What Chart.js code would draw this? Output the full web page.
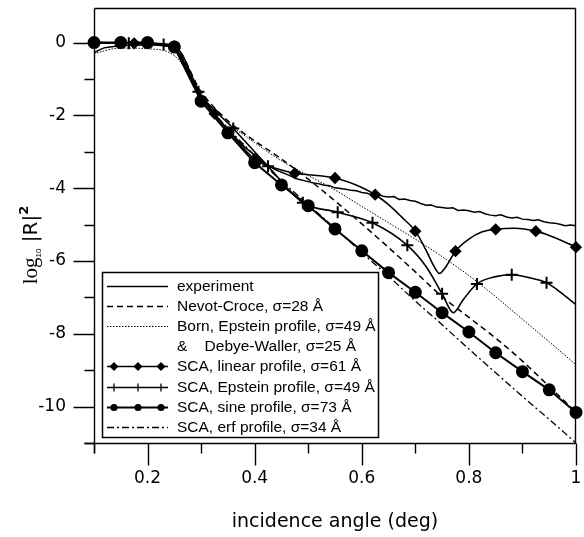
<!DOCTYPE html>
<html><head><meta charset="utf-8">
<script src="https://cdn.jsdelivr.net/npm/chart.js@4.4.0/dist/chart.umd.min.js"></script>
<style>html,body{margin:0;padding:0;background:#fff;overflow:hidden}canvas{display:block}</style>
</head><body>
<canvas id="c" width="584" height="537" style="width:584px;height:537px"></canvas>
<script>
// ---- tick labels ----
const xTickLabels = ['0.2', '0.4', '0.6', '0.8', '1'];
const yTickLabels = ['0', '-2', '-4', '-6', '-8', '-10'];
const xTitle = 'incidence angle (deg)';

// ---- legend labels ----
const labelExp = 'experiment';
const labelNC = 'Nevot-Croce, σ=28 Å';
const labelBorn = ['Born, Epstein profile, σ=49 Å', '&    Debye-Waller, σ=25 Å'];
const labelLin = 'SCA, linear profile, σ=61 Å';
const labelEps = 'SCA, Epstein profile, σ=49 Å';
const labelSin = 'SCA, sine profile, σ=73 Å';
const labelErf = 'SCA, erf profile, σ=34 Å';

// ---- experiment ----
const expX = [0.1,0.11,0.12,0.14,0.16,0.18,0.2,0.22,0.24,0.25,0.26,0.28,0.3,0.32,0.35,0.38,0.4,0.42,0.44,0.46,0.48,
  0.50,0.51,0.52,0.53,0.54,0.55,0.56,0.57,0.58,0.59,0.60,0.61,0.62,0.63,0.64,0.65,0.66,0.67,0.68,0.69,
  0.70,0.71,0.72,0.73,0.74,0.75,0.76,0.77,0.78,0.79,0.80,0.81,0.82,0.83,0.84,0.85,0.86,0.87,0.88,0.89,
  0.90,0.91,0.92,0.93,0.94,0.95,0.96,0.97,0.98,0.99,1.00];
const expY = [-0.28,-0.2,-0.14,-0.1,-0.08,-0.07,-0.06,-0.07,-0.1,-0.15,-0.35,-0.95,-1.5,-1.9,-2.4,-2.85,-3.1,-3.33,-3.5,-3.62,-3.75,
  -3.82,-3.86,-3.88,-3.92,-3.93,-3.99,-4.01,-4.03,-4.06,-4.07,-4.12,-4.14,-4.19,-4.17,-4.22,-4.24,-4.23,-4.31,-4.30,-4.34,
  -4.36,-4.42,-4.47,-4.46,-4.52,-4.53,-4.55,-4.54,-4.61,-4.60,-4.62,-4.66,-4.64,-4.70,-4.74,-4.76,-4.73,-4.79,-4.82,-4.80,
  -4.85,-4.86,-4.89,-4.87,-4.92,-4.95,-4.96,-4.99,-5.03,-5.01,-5.03];

// ---- Nevot-Croce ----
const ncX = [0.1,0.15,0.2,0.25,0.3,0.35,0.4,0.45,0.5,0.55,0.6,0.65,0.7,0.75,0.8,0.85,0.9,0.95,1.0];
const ncY = [0,-0.01,-0.02,-0.1,-1.35,-2.15,-2.7,-3.2,-3.75,-4.35,-4.98,-5.63,-6.3,-6.98,-7.55,-8.12,-8.75,-9.45,-10.15];

// ---- Born, Epstein & Debye-Waller ----
const bornX = [0.1,0.15,0.2,0.24,0.26,0.3,0.35,0.4,0.45,0.5,0.55,0.6,0.65,0.7,0.75,0.8,0.85,0.9,0.95,1.0];
const bornY = [-0.3,-0.15,-0.17,-0.27,-0.5,-1.45,-2.2,-2.75,-3.25,-3.65,-4.05,-4.5,-4.95,-5.4,-5.88,-6.4,-6.98,-7.6,-8.22,-8.85];

// ---- SCA linear ----
const linX = [0.1,0.175,0.25,0.3,0.325,0.35,0.4,0.45,0.475,0.5,0.55,0.6,0.625,0.65,0.675,0.7,0.72,0.735,0.745,0.755,0.775,0.8,0.825,0.85,0.885,0.925,0.95,0.975,1.0];
const linY = [0,-0.02,-0.1,-1.45,-1.95,-2.4,-3.2,-3.5,-3.59,-3.63,-3.72,-3.98,-4.18,-4.45,-4.8,-5.18,-5.7,-6.15,-6.34,-6.2,-5.73,-5.4,-5.2,-5.13,-5.1,-5.18,-5.3,-5.45,-5.62];
const linMarks = [0.1,0.175,0.25,0.325,0.4,0.475,0.55,0.625,0.7,0.775,0.85,0.925,1.0];

// ---- SCA Epstein ----
const epsX = [0.1,0.165,0.23,0.25,0.295,0.36,0.425,0.49,0.555,0.62,0.685,0.72,0.75,0.771,0.79,0.815,0.85,0.88,0.91,0.945,0.97,1.0];
const epsY = [0,-0.02,-0.05,-0.12,-1.35,-2.36,-3.4,-4.4,-4.66,-4.95,-5.57,-6.15,-6.9,-7.42,-7.05,-6.63,-6.43,-6.38,-6.45,-6.6,-6.85,-7.2];
const epsMarks = [0.1,0.165,0.23,0.295,0.36,0.425,0.49,0.555,0.62,0.685,0.75,0.815,0.88,0.945];

// ---- SCA sine ----
const sinX = [0.1,0.15,0.2,0.25,0.3,0.35,0.4,0.45,0.5,0.55,0.6,0.65,0.7,0.75,0.8,0.85,0.9,0.95,1.0];
const sinY = [0,0,0,-0.12,-1.61,-2.48,-3.3,-3.91,-4.48,-5.12,-5.72,-6.32,-6.86,-7.42,-7.95,-8.52,-9.04,-9.54,-10.16];

// ---- SCA erf ----
const erfX = [0.1,0.15,0.2,0.25,0.3,0.35,0.4,0.45,0.5,0.55,0.6,0.65,0.7,0.75,0.8,0.85,0.9,0.95,1.0];
const erfY = [0,0,-0.01,-0.12,-1.5,-2.35,-3.1,-3.8,-4.45,-5.1,-5.77,-6.42,-7.1,-7.75,-8.42,-9.07,-9.72,-10.35,-11.0];

const pts = (xs, ys) => xs.map((x, i) => ({x: x, y: ys[i]}));
const markR = (marks, r) => (ctx) => (ctx.raw && marks.includes(ctx.raw.x)) ? r : 0;

const BLACK = '#000';
const datasets = [
  {label: labelExp, data: pts(expX, expY), borderColor: BLACK, borderWidth: 1.5, pointRadius: 0, tension: 0, legendKind: 'line'},
  {label: labelNC, data: pts(ncX, ncY), borderColor: BLACK, borderWidth: 1.5, borderDash: [6, 4], pointRadius: 0, cubicInterpolationMode: 'monotone', legendKind: 'line'},
  {label: labelBorn, data: pts(bornX, bornY), borderColor: BLACK, borderWidth: 1, borderDash: [1.5, 1.5], pointRadius: 0, cubicInterpolationMode: 'monotone', legendKind: 'line'},
  {label: labelLin, data: pts(linX, linY), borderColor: BLACK, borderWidth: 1.6, pointRadius: markR(linMarks, 5), pointStyle: 'rectRot', pointBackgroundColor: BLACK, pointBorderColor: BLACK, cubicInterpolationMode: 'monotone', legendKind: 'diamond'},
  {label: labelEps, data: pts(epsX, epsY), borderColor: BLACK, borderWidth: 1.6, pointRadius: markR(epsMarks, 6), pointStyle: 'cross', pointBorderWidth: 2, pointBorderColor: BLACK, cubicInterpolationMode: 'monotone', legendKind: 'plus'},
  {label: labelSin, data: pts(sinX, sinY), borderColor: BLACK, borderWidth: 2, pointRadius: 5.5, pointStyle: 'circle', pointBackgroundColor: BLACK, pointBorderColor: BLACK, tension: 0, legendKind: 'dot'},
  {label: labelErf, data: pts(erfX, erfY), borderColor: BLACK, borderWidth: 1.3, borderDash: [7, 3, 2, 3], pointRadius: 0, cubicInterpolationMode: 'monotone', legendKind: 'line'}
];
datasets.forEach(d => { d.clip = 8; d.fill = false; });

function drawMarker(ctx, kind, x, y) {
  ctx.save();
  ctx.setLineDash([]);
  ctx.fillStyle = BLACK; ctx.strokeStyle = BLACK;
  if (kind === 'diamond') {
    const r = 4.5;
    ctx.beginPath(); ctx.moveTo(x, y - r); ctx.lineTo(x + r, y); ctx.lineTo(x, y + r); ctx.lineTo(x - r, y); ctx.closePath(); ctx.fill();
  } else if (kind === 'plus') {
    ctx.lineWidth = 1.3;
    ctx.beginPath(); ctx.moveTo(x, y - 4); ctx.lineTo(x, y + 4); ctx.stroke();
  } else if (kind === 'dot') {
    ctx.beginPath(); ctx.arc(x, y, 3.6, 0, Math.PI * 2); ctx.fill();
  }
  ctx.restore();
}

const framePlugin = {
  id: 'frame',
  afterDraw(chart) {
    const ctx = chart.ctx;
    const xs = chart.scales.x, ys = chart.scales.y;
    const L = xs.left + 0.5, R = xs.right - 0.5, T = ys.top + 0.5, B = ys.bottom + 0.5;
    ctx.save();
    ctx.strokeStyle = BLACK; ctx.lineWidth = 1.4; ctx.setLineDash([]);
    ctx.beginPath();
    ctx.moveTo(L, T); ctx.lineTo(R, T); // top
    ctx.moveTo(L, T); ctx.lineTo(L, B + 10); // left axis
    ctx.moveTo(R, T); ctx.lineTo(R, B); // right
    ctx.moveTo(L - 10, B); ctx.lineTo(R, B); // bottom axis
    ctx.stroke();
    // x ticks
    ctx.beginPath();
    xs.ticks.forEach(t => {
      const k = Math.round(t.value * 10);
      if (Math.abs(t.value * 10 - k) > 1e-6) return;
      const px = Math.round(xs.getPixelForValue(t.value)) + 0.5;
      const len = (k % 2 === 0) ? 22 : 10;
      ctx.moveTo(px, B); ctx.lineTo(px, B + len);
    });
    // y ticks
    ys.ticks.forEach(t => {
      if (!Number.isInteger(t.value)) return;
      const py = Math.round(ys.getPixelForValue(t.value)) + 0.5;
      const len = (t.value % 2 === 0) ? 21 : 10;
      ctx.moveTo(L - len, py); ctx.lineTo(L, py);
    });
    ctx.stroke();

    // y title: log10 |R|^2
    ctx.translate(30, 245);
    ctx.rotate(-Math.PI / 2);
    ctx.fillStyle = BLACK;
    ctx.textBaseline = 'alphabetic';
    const parts = [
      {t: 'log', f: '21px "Liberation Serif"', dy: 0},
      {t: '10', f: '8px "Liberation Sans"', dy: 4},
      {t: ' |R|', f: '20px "DejaVu Sans"', dy: 0},
      {t: '2', f: 'bold 13px "DejaVu Sans"', dy: -9}
    ];
    let w = 0;
    parts.forEach(p => { ctx.font = p.f; p.w = ctx.measureText(p.t).width; w += p.w; });
    let cx = -w / 2;
    parts.forEach(p => { ctx.font = p.f; ctx.fillText(p.t, cx, 7 + p.dy); cx += p.w; });
    ctx.restore();
  }
};

const legendPlugin = {
  id: 'boxLegend',
  afterDatasetsDraw(chart) {
    const ctx = chart.ctx;
    const bx = 102.5, by = 272.5, bw = 276, bh = 165;
    ctx.save();
    ctx.fillStyle = '#fff';
    ctx.fillRect(bx, by, bw, bh);
    ctx.strokeStyle = BLACK; ctx.lineWidth = 1.5; ctx.setLineDash([]);
    ctx.strokeRect(bx, by, bw, bh);
    ctx.font = '15.5px "Liberation Sans"';
    ctx.fillStyle = BLACK;
    ctx.textBaseline = 'middle';
    let row = 0;
    const rowH = 20.1, y0 = 286;
    chart.data.datasets.forEach(d => {
      const y = Math.round(y0 + row * rowH) + 0.5;
      ctx.save();
      ctx.strokeStyle = BLACK;
      ctx.lineWidth = d.borderWidth;
      ctx.setLineDash(d.borderDash || []);
      ctx.beginPath(); ctx.moveTo(107, y); ctx.lineTo(168, y); ctx.stroke();
      ctx.restore();
      if (d.legendKind !== 'line') {
        [114, 138, 161].forEach(mx => drawMarker(ctx, d.legendKind, mx, y));
      }
      const lines = Array.isArray(d.label) ? d.label : [d.label];
      lines.forEach((s, i) => {
        ctx.fillText(s, 177, Math.round(y0 + (row + i) * rowH) + 0.5);
      });
      row += lines.length;
    });
    ctx.restore();
  }
};

new Chart(document.getElementById('c'), {
  type: 'line',
  data: {datasets: datasets},
  options: {
    responsive: false,
    devicePixelRatio: 1,
    animation: false,
    events: [],
    layout: {padding: {left: 0, right: 3, top: 5, bottom: 0}},
    plugins: {legend: {display: false}, tooltip: {enabled: false}},
    scales: {
      x: {
        type: 'linear', min: 0.1, max: 1.0,
        grid: {display: false, drawTicks: false, tickLength: 0},
        border: {display: false},
        ticks: {
          stepSize: 0.1, padding: 25, color: BLACK, autoSkip: false, maxRotation: 0,
          font: {family: '"DejaVu Sans"', size: 17},
          callback: (v) => { const k = Math.round(v * 10); return (Math.abs(v * 10 - k) < 1e-6 && k % 2 === 0 && k >= 2) ? xTickLabels[k / 2 - 1] : ''; }
        },
        title: {display: true, text: xTitle, color: BLACK, font: {family: '"DejaVu Sans"', size: 19}, padding: {top: 0, bottom: 4}},
        afterFit: (s) => { s.height = 94; s.paddingLeft = 0; s.paddingRight = 0; }
      },
      y: {
        type: 'linear', min: -11, max: 0.95,
        grid: {display: false, drawTicks: false, tickLength: 0},
        border: {display: false},
        ticks: {
          stepSize: 1, padding: 28, color: BLACK, autoSkip: false,
          font: {family: '"DejaVu Sans"', size: 17},
          callback: (v) => (Number.isInteger(v) && v % 2 === 0 && v <= 0) ? yTickLabels[-v / 2] : ''
        },
        afterFit: (s) => { s.width = 94; s.paddingTop = 0; s.paddingBottom = 0; }
      }
    }
  },
  plugins: [legendPlugin, framePlugin]
});
</script>
</body></html>
